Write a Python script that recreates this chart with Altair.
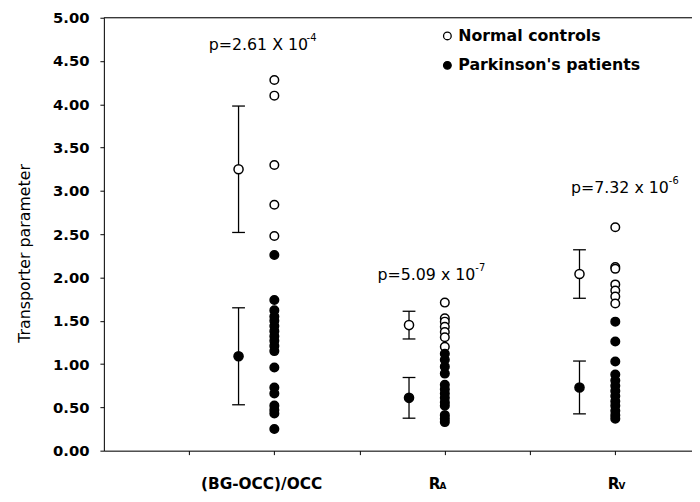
import altair as alt
import pandas as pd

# ---- data ----
groups = ["(BG-OCC)/OCC", "R_A", "R_V"]
group_x = [2.0, 4.0, 6.0]          # position of the individual points
bar_x = [1.58, 3.58, 5.58]         # position of mean ± SD bars

normal_vals = [
    [4.28, 4.10, 3.30, 2.84, 2.48],
    [1.71, 1.53, 1.49, 1.43, 1.37, 1.31, 1.20],
    [2.58, 2.12, 2.10, 1.92, 1.85, 1.78, 1.70],
]
park_vals = [
    [2.26, 1.74, 1.62, 1.55, 1.50, 1.44, 1.38, 1.32, 1.27, 1.21, 1.15,
     0.96, 0.73, 0.66, 0.52, 0.47, 0.43, 0.25],
    [1.12, 1.05, 0.97, 0.89, 0.76, 0.71, 0.66, 0.61, 0.56, 0.52, 0.41,
     0.37, 0.33],
    [1.49, 1.26, 1.03, 0.88, 0.81, 0.75, 0.69, 0.63, 0.57, 0.52, 0.46,
     0.41, 0.37],
]
normal_mean = [3.25, 1.45, 2.04]
normal_sd = [0.73, 0.16, 0.28]
park_mean = [1.09, 0.61, 0.73]
park_sd = [0.56, 0.235, 0.305]

p_text = ["p=2.61 X 10", "p=5.09 x 10", "p=7.32 x 10"]
p_exp = ["-4", "-7", "-6"]
p_x = [1.23, 3.21, 5.48]
p_y = [4.69, 2.03, 3.03]

legend_labels = ["Normal controls", "Parkinson's patients"]
legend_x = [4.03, 4.03]
legend_y = [4.79, 4.45]

cat_main = ["(BG-OCC)/OCC", "R", "R"]
cat_sub = ["", "A", "V"]
cat_x = [1.85, 3.88, 5.98]
cat_y = -0.38

FONT = "DejaVu Sans"

# ---- tables ----
rows = []
for gx, nv, pv in zip(group_x, normal_vals, park_vals):
    for v in nv:
        rows.append({"x": gx, "y": v, "grp": "Normal controls"})
    for v in pv:
        rows.append({"x": gx, "y": v, "grp": "Parkinson's patients"})
pts = pd.DataFrame(rows)

bars = []
for bx, m, s in zip(bar_x, normal_mean, normal_sd):
    bars.append({"x": bx, "m": m, "lo": m - s, "hi": m + s,
                 "xl": bx - 0.075, "xr": bx + 0.075, "grp": "Normal controls"})
for bx, m, s in zip(bar_x, park_mean, park_sd):
    bars.append({"x": bx, "m": m, "lo": m - s, "hi": m + s,
                 "xl": bx - 0.075, "xr": bx + 0.075, "grp": "Parkinson's patients"})
bars = pd.DataFrame(bars)

ptab = pd.DataFrame({"x": p_x, "y": p_y, "t": p_text, "e": p_exp})
leg = pd.DataFrame({"x": legend_x, "y": legend_y, "t": legend_labels,
                    "grp": legend_labels})
cats = pd.DataFrame({"x": cat_x, "y": [cat_y] * 3, "t": cat_main, "s": cat_sub})

xs = alt.Scale(domain=[0, 6.9], nice=False, zero=False)
ys = alt.Scale(domain=[0, 5], nice=False)

X = lambda f="x": alt.X(f"{f}:Q", scale=xs, axis=alt.Axis(
    values=[1, 2, 3, 4, 5, 6], labels=False, title=None, grid=False,
    tickSize=4, domainColor="black", tickColor="black"))
Y = lambda f="y": alt.Y(f"{f}:Q", scale=ys, axis=alt.Axis(
    values=[0, 0.5, 1, 1.5, 2, 2.5, 3, 3.5, 4, 4.5, 5], format=".2f",
    title="Transporter parameter", grid=False, tickSize=4, labelPadding=11,
    labelFont=FONT, labelFontWeight="bold", labelFontSize=15, labelColor="black",
    titleFont=FONT, titleFontWeight="normal", titleFontSize=16, titleColor="black",
    titlePadding=20, titleY=238, domainColor="black", tickColor="black"))

fill_scale = alt.Scale(domain=["Normal controls", "Parkinson's patients"],
                       range=["white", "black"])

base_pts = alt.Chart(pts).mark_point(shape="circle", size=75, strokeWidth=1.5,
                                     stroke="black", opacity=1, filled=True).encode(
    x=X(), y=Y(),
    fill=alt.Fill("grp:N", scale=fill_scale, legend=None))

err_v = alt.Chart(bars).mark_rule(color="black", strokeWidth=1.3).encode(
    x=alt.X("x:Q", scale=xs), y=alt.Y("lo:Q", scale=ys), y2="hi:Q")
cap_hi = alt.Chart(bars).mark_rule(color="black", strokeWidth=1.3).encode(
    x=alt.X("xl:Q", scale=xs), x2="xr:Q", y=alt.Y("hi:Q", scale=ys))
cap_lo = alt.Chart(bars).mark_rule(color="black", strokeWidth=1.3).encode(
    x=alt.X("xl:Q", scale=xs), x2="xr:Q", y=alt.Y("lo:Q", scale=ys))
means = alt.Chart(bars).mark_point(shape="circle", size=85, strokeWidth=1.5,
                                   stroke="black", opacity=1, filled=True).encode(
    x=alt.X("x:Q", scale=xs), y=alt.Y("m:Q", scale=ys),
    fill=alt.Fill("grp:N", scale=fill_scale, legend=None))

ptxt = alt.Chart(ptab).mark_text(align="left", baseline="middle", font=FONT,
                                 fontSize=16, color="black").encode(
    x=alt.X("x:Q", scale=xs), y=alt.Y("y:Q", scale=ys), text="t:N")
pexp = alt.Chart(ptab).mark_text(align="left", baseline="middle", font=FONT,
                                 fontSize=10, color="black", dx=99, dy=-7).encode(
    x=alt.X("x:Q", scale=xs), y=alt.Y("y:Q", scale=ys), text="e:N")

leg_pts = alt.Chart(leg).mark_point(shape="circle", size=60, strokeWidth=1.3,
                                    stroke="black", opacity=1, filled=True).encode(
    x=alt.X("x:Q", scale=xs), y=alt.Y("y:Q", scale=ys),
    fill=alt.Fill("grp:N", scale=fill_scale, legend=None))
leg_txt = alt.Chart(leg).mark_text(align="left", baseline="middle", font=FONT,
                                   fontSize=16, fontWeight="bold", color="black",
                                   dx=11).encode(
    x=alt.X("x:Q", scale=xs), y=alt.Y("y:Q", scale=ys), text="t:N")

cat_txt = alt.Chart(cats).mark_text(align="center", baseline="middle", font=FONT,
                                    fontSize=15.5, fontWeight="bold", color="black").encode(
    x=alt.X("x:Q", scale=xs), y=alt.Y("y:Q", scale=ys), text="t:N")
cat_subt = alt.Chart(cats).mark_text(align="left", baseline="middle", font=FONT,
                                     fontSize=9, fontWeight="bold", color="black",
                                     dx=5, dy=3).encode(
    x=alt.X("x:Q", scale=xs), y=alt.Y("y:Q", scale=ys), text="s:N")

top_line = alt.Chart(pd.DataFrame({"y": [5.0]})).mark_rule(
    color="black", strokeWidth=1).encode(
    y=alt.Y("y:Q", scale=ys), x=alt.value(0), x2=alt.value(595))

chart = alt.layer(
    base_pts, top_line, err_v, cap_hi, cap_lo, means, ptxt, pexp,
    leg_pts, leg_txt, cat_txt, cat_subt
).properties(
    width=595, height=438,
    autosize=alt.AutoSizeParams(type="none"),
    padding={"left": 97, "top": 7, "right": 0, "bottom": 41},
).configure_view(stroke=None).configure(background="white")

chart.save("out.html", embed_options={"renderer": "svg", "actions": False})
